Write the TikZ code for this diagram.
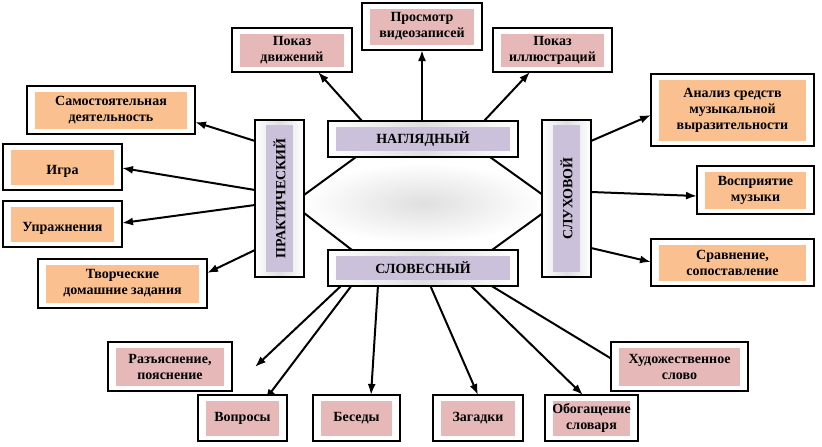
\documentclass[tikz,border=0pt]{standalone}
\usepackage{fontspec}
\setmainfont{Liberation Serif}
\usetikzlibrary{arrows.meta,shadings}
\definecolor{pk}{HTML}{E6B9B8}
\definecolor{og}{HTML}{FAC090}
\definecolor{lv}{HTML}{CCC1DA}
\tikzset{
 ob/.style={draw=black,line width=1.2pt,fill=white},
 ar/.style={line width=2pt,-{Latex[length=11pt,width=8pt]}},
 ln/.style={line width=2pt},
 tx/.style={font=\bfseries\fontsize{14}{16}\selectfont,align=center,inner sep=0pt}
}
\newcommand{\bx}[6]{%
 \draw[ob] (#2,#3) rectangle (#4,#5);
 \fill[#6] (#2+8,#3+6) rectangle (#4-8,#5-5);
 \coordinate (#1) at ({(#2+#4)/2},{(#3+#5)/2});
}
\newcommand{\cbox}[5]{%
 \draw[ob,left color=white,right color=white,middle color=gray!25] (#2,#3) rectangle (#4,#5);
 \coordinate (#1) at ({(#2+#4)/2},{(#3+#5)/2});
}
\begin{document}
\begin{tikzpicture}[x=1pt,y=-1pt]
\useasboundingbox (0,0) rectangle (822,447);
\shade[inner color=gray!25,outer color=white] (423,203) ellipse (120 and 40);
\draw[ln] (356,157)--(304,195); \draw[ln] (490,157)--(543,195);
\draw[ln] (304,213)--(352,250); \draw[ln] (543,213)--(492,250);
\draw[ar] (362,121)--(318,72);
\draw[ar] (422,121)--(422,50);
\draw[ar] (484,121)--(530,72);
\draw[ar] (255,141)--(195,122);
\draw[ar] (255,190)--(122,168);
\draw[ar] (255,205)--(122,223);
\draw[ar] (255,250)--(207,273);
\draw[ar] (591,141)--(651,115);
\draw[ar] (591,192)--(697,196);
\draw[ar] (591,248)--(651,262);
\draw[ar] (342,285)--(255,367);
\draw[ar] (352,285)--(265,400);
\draw[ar] (378,285)--(371,395);
\draw[ar] (430,285)--(478,395);
\draw[ar] (470,285)--(583,395);
\draw[ar] (490,285)--(625,367);
\cbox{nag}{328}{121}{518}{157}{}
\fill[lv] (336,127) rectangle (510,151);
\node[tx] at (nag) {НАГЛЯДНЫЙ};
\cbox{slo}{328}{250}{518}{286}{}
\fill[lv] (336,256) rectangle (510,280);
\node[tx] at (slo) {СЛОВЕСНЫЙ};
\cbox{pra}{255}{120}{304}{277}{}
\fill[lv] (266,125) rectangle (293,272);
\node[tx,rotate=90] at (pra) {ПРАКТИЧЕСКИЙ};
\cbox{slu}{542}{120}{591}{277}{}
\fill[lv] (553,125) rectangle (580,272);
\node[tx,rotate=90] at (slu) {СЛУХОВОЙ};
\bx{a}{232}{28}{352}{72}{pk}\node[tx] at (a) {Показ\\движений};
\bx{b}{362}{3}{482}{50}{pk}\node[tx] at (b) {Просмотр\\видеозаписей};
\bx{c}{493}{28}{612}{72}{pk}\node[tx] at (c) {Показ\\иллюстраций};
\bx{d}{27}{86}{195}{134}{og}\node[tx] at (d) {Самостоятельная\\деятельность};
\bx{e}{3}{144}{122}{190}{og}\node[tx] at ([yshift=-4]e) {Игра};
\bx{f}{3}{201}{122}{247}{og}\node[tx] at ([yshift=-4]f) {Упражнения};
\bx{g}{38}{259}{207}{308}{og}\node[tx] at (g) {Творческие\\домашние задания};
\bx{h}{651}{74}{814}{146}{og}\node[tx] at (h) {Анализ средств\\музыкальной\\выразительности};
\bx{i}{697}{166}{814}{214}{og}\node[tx] at (i) {Восприятие\\музыки};
\bx{j}{651}{239}{814}{286}{og}\node[tx] at (j) {Сравнение,\\сопоставление};
\bx{k}{108}{342}{232}{391}{pk}\node[tx] at (k) {Разъяснение,\\пояснение};
\bx{l}{198}{395}{287}{441}{pk}\node[tx] at (l) {Вопросы};
\bx{m}{313}{395}{400}{441}{pk}\node[tx] at (m) {Беседы};
\bx{n}{433}{395}{523}{441}{pk}\node[tx] at (n) {Загадки};
\bx{o}{545}{395}{638}{441}{pk}\node[tx] at (o) {Обогащение\\словаря};
\bx{p}{611}{342}{748}{391}{pk}\node[tx] at (p) {Художественное\\слово};
\end{tikzpicture}
\end{document}
